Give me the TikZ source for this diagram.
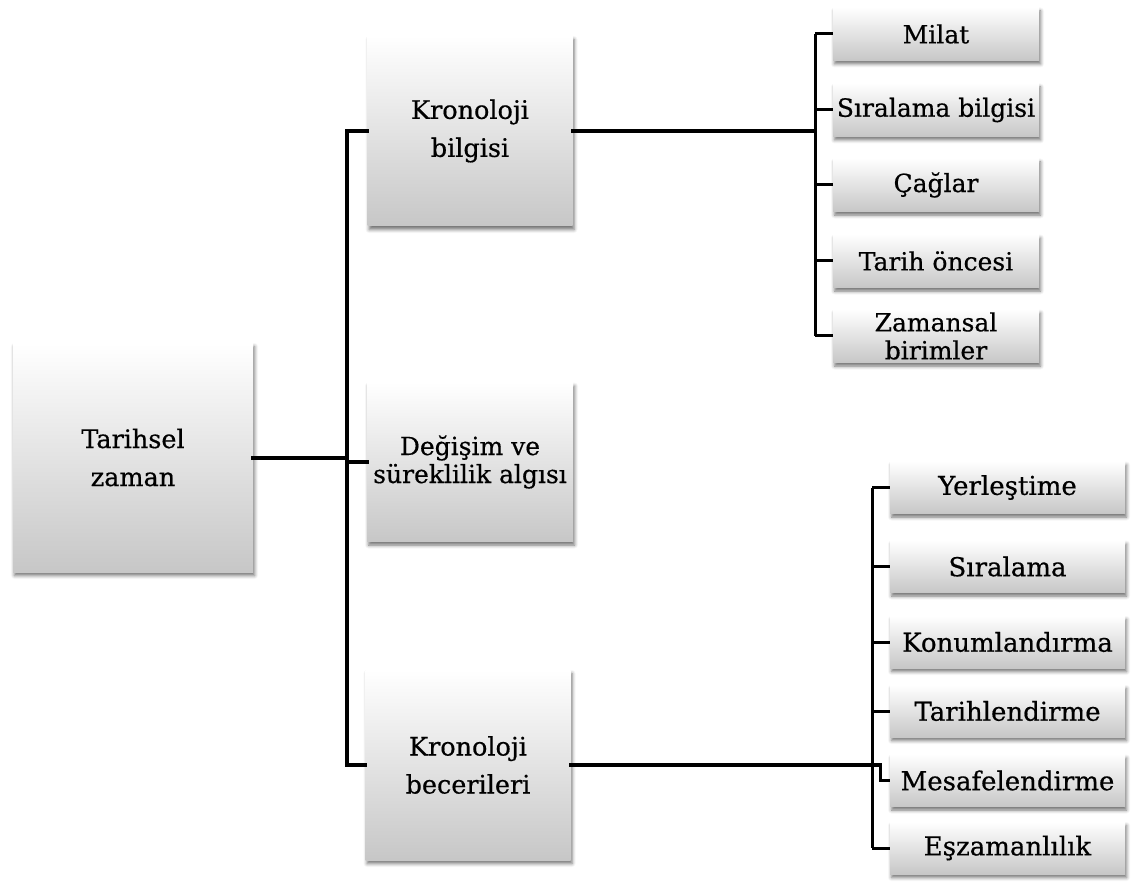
\documentclass[tikz,border=0pt]{standalone}
\usepackage{fontspec}
\setmainfont{DejaVu Serif}[FakeBold=0.5]
\usetikzlibrary{shadows.blur}
\begin{document}
\begin{tikzpicture}[x=1pt,y=-1pt,
  box/.style={rectangle, inner sep=0pt, align=center,
    top color=white, bottom color=black!22,
    blur shadow={shadow xshift=1.5pt, shadow yshift=-3.5pt,
      shadow blur radius=3.5pt, shadow opacity=55}},
  bigbox/.style={box, minimum width=205pt, minimum height=190pt,
    font=\fontsize{25.5}{38}\selectfont},
  tightbox/.style={box, minimum width=206pt, minimum height=159pt,
    font=\fontsize{25}{28}\selectfont},
  topleaf/.style={box, minimum width=206pt, minimum height=53pt,
    font=\fontsize{25}{28}\selectfont},
  botleaf/.style={box, minimum width=235pt, minimum height=52pt,
    font=\fontsize{26}{28}\selectfont},
  trunk/.style={line width=4pt, line cap=rect, line join=miter},
  twig/.style={line width=3pt, line join=miter}]
\useasboundingbox (0,0) rectangle (1132,882);

% root and the three main branches
\node[bigbox, minimum width=240pt, minimum height=229pt] (tz) at (133,457.5) {Tarihsel\\zaman};
\node[bigbox] (kb) at (470,131) {Kronoloji\\bilgisi};
\node[tightbox] (dv) at (470,462) {Değişim ve\\süreklilik algısı};
\node[bigbox] (kbc) at (468,765) {Kronoloji\\becerileri};

% chronology knowledge leaves
\node[topleaf] (m1) at (936,34) {Milat};
\node[topleaf] (m2) at (936,110) {Sıralama bilgisi};
\node[topleaf] (m3) at (936,185) {Çağlar};
\node[topleaf] (m4) at (936,261) {Tarih öncesi};
\node[topleaf] (m5) at (936,336) {Zamansal\\birimler};

% chronology skill leaves
\node[botleaf] (b1) at (1007.5,487.5) {Yerleştime};
\node[botleaf] (b2) at (1007.5,566.5) {Sıralama};
\node[botleaf] (b3) at (1007.5,642) {Konumlandırma};
\node[botleaf] (b4) at (1007.5,711) {Tarihlendirme};
\node[botleaf] (b5) at (1007.5,780.5) {Mesafelendirme};
\node[botleaf] (b6) at (1007.5,848) {Eşzamanlılık};

% main trunk
\coordinate (j1) at (347,131);
\coordinate (j2) at (347,765);
\draw[trunk] (kb.west) -- (j1) -- (j2) -- (kbc.west);
\draw[trunk] (tz.east) -- (tz.east -| j1);
\draw[trunk] (j1 |- dv.west) -- (dv.west);

% upper fan
\coordinate (t1) at (815,131);
\draw[trunk] (kb.east) -- (t1);
\draw[twig] (m1.west -| t1) -- (m5.west -| t1);
\foreach \n in {m1,m2,m3,m4,m5}
  \draw[twig] (\n.west -| t1) -- (\n.west);

% lower fan
\coordinate (u1) at (872,765);
\coordinate (u2) at (880,765);
\draw[trunk] (kbc.east) -- (u2);
\draw[twig] (b1.west -| u1) -- (b6.west -| u1);
\foreach \n in {b1,b2,b3,b4,b6}
  \draw[twig] (\n.west -| u1) -- (\n.west);
\draw[twig] (u2) -- (b5.west -| u2) -- (b5.west);
\end{tikzpicture}
\end{document}
